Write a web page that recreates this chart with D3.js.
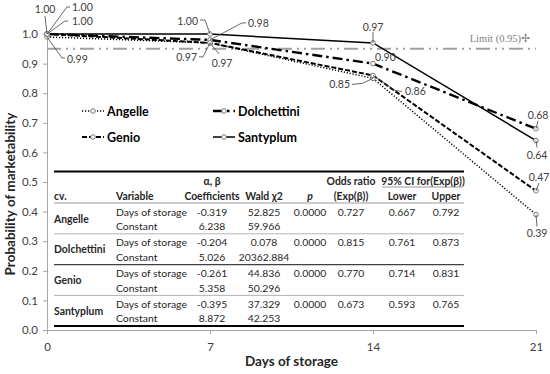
<!DOCTYPE html>
<html>
<head>
<meta charset="utf-8">
<script src="https://cdn.jsdelivr.net/npm/d3@7"></script>
<style>
  body { margin: 0; background: #fff; }
  svg { font-family: Lato, "Open Sans", sans-serif; }
</style>
</head>
<body>
<div id="chart"></div>
<script>
const WIDTH = 550;
const HEIGHT = 374;

// data
const days = [0, 7, 14, 21];
const cultivars = ['Angelle', 'Dolchettini', 'Genio', 'Santyplum'];
const angelle = [0.99, 0.97, 0.85, 0.39];
const dolchettini = [1.00, 0.98, 0.90, 0.68];
const genio = [1.00, 0.97, 0.86, 0.47];
const santyplum = [1.00, 1.00, 0.97, 0.64];
const limitValue = 0.95;
const yTicks = [0, 0.1, 0.2, 0.3, 0.4, 0.5, 0.6, 0.7, 0.8, 0.9, 1.0];

// table
const tableHead1 = ['', '', 'α, β', '', '', 'Odds ratio', '95% CI for(Exp(β))', ''];
const tableHead2 = ['cv.', 'Variable', 'Coefficients', 'Wald χ2', 'p', '(Exp(β))', 'Lower', 'Upper'];
const variables = ['Days of storage', 'Constant'];
const coefficients = [['-0.319', '6.238'], ['-0.204', '5.026'], ['-0.261', '5.358'], ['-0.395', '8.872']];
const wald = [['52.825', '59.966'], ['0.078', '20362.884'], ['44.836', '50.296'], ['37.329', '42.253']];
const pValues = ['0.0000', '0.0000', '0.0000', '0.0000'];
const oddsRatio = ['0.727', '0.815', '0.770', '0.673'];
const ciLower = ['0.667', '0.761', '0.714', '0.593'];
const ciUpper = ['0.792', '0.873', '0.831', '0.765'];

const seriesValues = [angelle, dolchettini, genio, santyplum];

const seriesStyle = [
  { dash: '1.2,1.8', width: 1.5 },
  { dash: '10,4,2.5,4', width: 2.4 },
  { dash: '5,2', width: 2 },
  { dash: null, width: 1.5 },
];

const svg = d3.select('#chart').append('svg')
  .attr('width', WIDTH)
  .attr('height', HEIGHT);

const x = d3.scaleLinear().domain([0, 21]).range([47, 536]);
const y = d3.scaleLinear().domain([0, 1]).range([330, 34]);

// axes
const xAxis = d3.axisBottom(x).tickValues(days).tickSize(4).tickSizeOuter(0);
const yAxis = d3.axisLeft(y).tickValues(yTicks).tickFormat(d3.format('.1f')).tickSize(4).tickSizeOuter(0);

const gx = svg.append('g').attr('transform', `translate(0,${y(0)})`).call(xAxis);
const gy = svg.append('g').attr('transform', `translate(${x(0)},0)`).call(yAxis);
[gx, gy].forEach((g) => {
  g.select('.domain').attr('stroke', '#a6a6a6');
  g.selectAll('.tick line').attr('stroke', '#a6a6a6');
  g.selectAll('.tick text').attr('fill', '#404040').style('font-size', '11.5px').style('font-family', 'Lato, sans-serif');
});
gx.selectAll('.tick text').attr('dy', '1.2em');
gy.selectAll('.tick text').attr('dx', '-2');

svg.append('text')
  .attr('x', (x(0) + x(21)) / 2)
  .attr('y', 366)
  .attr('text-anchor', 'middle')
  .style('font-weight', 'bold')
  .style('font-size', '13.5px')
  .attr('fill', '#262626')
  .text('Days of storage');

svg.append('text')
  .attr('transform', `translate(15,194) rotate(-90)`)
  .attr('text-anchor', 'middle')
  .style('font-weight', 'bold')
  .style('font-size', '13.5px')
  .attr('fill', '#262626')
  .text('Probability of marketability');

// limit line
svg.append('line')
  .attr('x1', x(0)).attr('x2', x(21))
  .attr('y1', y(limitValue)).attr('y2', y(limitValue))
  .attr('stroke', '#a0a0a0')
  .attr('stroke-width', 2)
  .attr('stroke-dasharray', '14,5,2,5,2,5');

svg.append('text')
  .attr('x', 530)
  .attr('y', 42)
  .attr('text-anchor', 'end')
  .style('font-family', '"Liberation Serif", serif')
  .style('font-size', '10.5px')
  .attr('fill', '#808080')
  .text('Limit (0.95)✢');

// series lines
const line = d3.line().x((d, i) => x(days[i])).y((d) => y(d));

seriesValues.forEach((vals, s) => {
  svg.append('path')
    .datum(vals)
    .attr('d', line)
    .attr('fill', 'none')
    .attr('stroke', '#000')
    .attr('stroke-width', seriesStyle[s].width)
    .attr('stroke-dasharray', seriesStyle[s].dash);
});

seriesValues.forEach((vals) => {
  svg.selectAll(null)
    .data(vals)
    .enter()
    .append('circle')
    .attr('cx', (d, i) => x(days[i]))
    .attr('cy', (d) => y(d))
    .attr('r', 2.3)
    .attr('fill', '#fff')
    .attr('stroke', '#777')
    .attr('stroke-width', 1);
});

// value labels: [series, dayIndex, leader points relative to marker, text x/y relative, anchor]
const labelLayout = [
  [3, 0, [[-2, -18]], [-2, -21], 'middle'],
  [1, 0, [[20, -27], [23, -27]], [25, -23], 'start'],
  [2, 0, [[18, -13], [21, -13]], [25, -9], 'start'],
  [0, 0, [[15, 21], [18, 21]], [20, 26], 'start'],
  [3, 1, [[-5, -14], [-10, -14]], [-12, -9], 'end'],
  [1, 1, [[32, -17], [36, -17]], [38, -13], 'start'],
  [2, 1, [[-7, 14], [-11, 14]], [-13, 18], 'end'],
  [0, 1, [[9, 11]], [12, 24], 'middle'],
  [3, 2, [[0, -11]], [0, -12], 'middle'],
  [1, 2, [], [2, -3], 'start'],
  [0, 2, [[-11, 5], [-21, 6]], [-23, 10], 'end'],
  [2, 2, [[22, 15], [29, 16]], [32, 20], 'start'],
  [1, 3, [[2, -8]], [2, -10], 'middle'],
  [3, 3, [[1, 7]], [1, 18], 'middle'],
  [2, 3, [[3, -8]], [3, -10], 'middle'],
  [0, 3, [[1, 12]], [1, 22], 'middle'],
];

labelLayout.forEach(([s, i, pts, t, anchor]) => {
  const px = x(days[i]);
  const py = y(seriesValues[s][i]);
  if (pts.length) {
    const path = [[px, py]].concat(pts.map(([dx, dy]) => [px + dx, py + dy]));
    svg.append('path')
      .attr('d', d3.line()(path))
      .attr('fill', 'none')
      .attr('stroke', '#404040')
      .attr('stroke-width', 0.8);
  }
  svg.append('text')
    .attr('x', px + t[0])
    .attr('y', py + t[1])
    .attr('text-anchor', anchor)
    .style('font-size', '10.5px')
    .attr('fill', '#404040')
    .text(seriesValues[s][i].toFixed(2));
});

// legend
const legendPos = [[82, 111], [213, 111], [82, 137], [213, 137]];
cultivars.forEach((name, s) => {
  const [lx, ly] = legendPos[s];
  const g = svg.append('g').attr('transform', `translate(${lx},${ly})`);
  g.append('line')
    .attr('x1', 0).attr('x2', 22).attr('y1', 0).attr('y2', 0)
    .attr('stroke', '#000')
    .attr('stroke-width', seriesStyle[s].width)
    .attr('stroke-dasharray', seriesStyle[s].dash);
  g.append('circle')
    .attr('cx', 11).attr('cy', 0).attr('r', 2.3)
    .attr('fill', '#fff').attr('stroke', '#777');
  g.append('text')
    .attr('x', 25).attr('y', 4.5)
    .style('font-weight', 'bold')
    .style('font-size', '12.5px')
    .attr('fill', '#000')
    .text(name);
});

// table
const colX = [54, 116, 212, 264, 310, 351, 402, 446];
const colAnchor = ['start', 'start', 'middle', 'middle', 'middle', 'middle', 'middle', 'middle'];
const tableLeft = 54;
const tableRight = 464;
const table = svg.append('g').style('font-size', '10.4px').attr('fill', '#262626');

function hline(y0, x1, x2, w, color) {
  table.append('line')
    .attr('x1', x1).attr('x2', x2).attr('y1', y0).attr('y2', y0)
    .attr('stroke', color).attr('stroke-width', w);
}

hline(171.5, tableLeft, tableRight, 2, '#000');
hline(187, 382, 462, 0.8, '#808080');
hline(203, tableLeft, tableRight, 0.8, '#808080');

tableHead1.forEach((t, c) => {
  if (!t) return;
  const cx = c === 6 ? 423 : colX[c];
  table.append('text').attr('x', cx).attr('y', 185)
    .attr('text-anchor', 'middle').style('font-weight', 'bold').text(t);
});
tableHead2.forEach((t, c) => {
  table.append('text').attr('x', colX[c]).attr('y', 200)
    .attr('text-anchor', colAnchor[c]).style('font-weight', 'bold')
    .style('font-style', c === 4 ? 'italic' : null).text(t);
});

const groupTop = 203;
const groupH = 30.8;
cultivars.forEach((name, k) => {
  const gy0 = groupTop + k * groupH;
  const r1 = gy0 + 12.5;
  const r2 = gy0 + 27;
  table.append('text').attr('x', colX[0]).attr('y', gy0 + 19.5)
    .style('font-weight', 'bold').text(name);
  const row1 = [null, variables[0], coefficients[k][0], wald[k][0], pValues[k], oddsRatio[k], ciLower[k], ciUpper[k]];
  const row2 = [null, variables[1], coefficients[k][1], wald[k][1], '', '', '', ''];
  [[row1, r1], [row2, r2]].forEach(([row, ry]) => {
    row.forEach((t, c) => {
      if (!t) return;
      table.append('text').attr('x', colX[c]).attr('y', ry)
        .attr('text-anchor', colAnchor[c]).text(t);
    });
  });
  if (k < cultivars.length - 1) {
    hline(gy0 + groupH, tableLeft, tableRight, k === 1 ? 1.2 : 0.8, k === 1 ? '#404040' : '#a0a0a0');
  }
});
hline(326, tableLeft, tableRight, 2.2, '#000');
</script>
</body>
</html>
